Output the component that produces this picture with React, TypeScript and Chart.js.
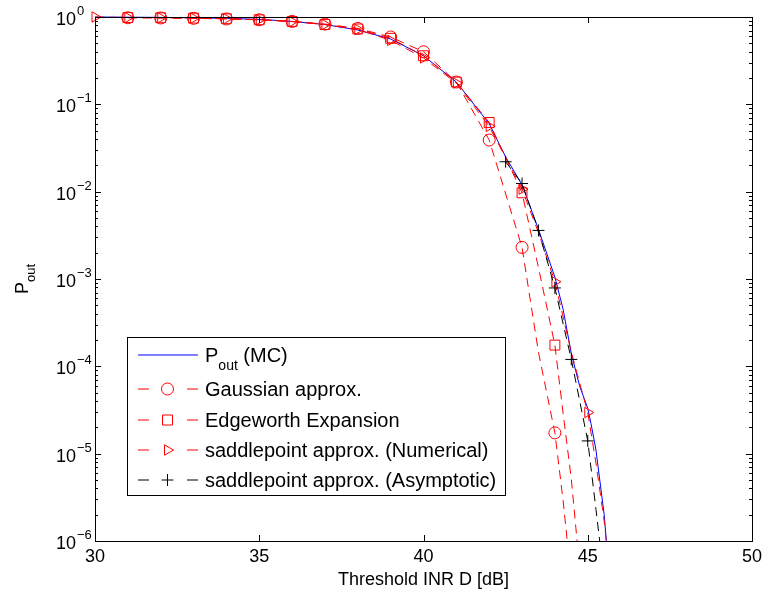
import React, { useEffect, useRef } from 'react';
import { Chart, registerables } from 'chart.js';
Chart.register(...registerables);

// ---- data ----
const mcX = [30, 31, 32, 33, 34, 35, 36, 37, 38, 39, 40, 41, 42, 42.5, 43, 43.5, 44, 44.25, 44.5, 44.75, 45, 45.1, 45.25, 45.5, 45.6];
const mcY = [1.0, 0.995, 0.99, 0.98, 0.965, 0.94, 0.89, 0.82, 0.71, 0.56, 0.36, 0.18, 0.06, 0.025, 0.012, 0.0037, 1.05e-3, 4.5e-4, 1.4e-4, 6e-5, 3.3e-5, 2.2e-5, 1.1e-5, 2e-6, 7e-7];

const gaussX = [31, 32, 33, 34, 35, 36, 37, 38, 39, 40, 41, 42, 43, 43.5, 44, 44.25, 44.5];
const gaussY = [0.98, 0.975, 0.965, 0.95, 0.93, 0.89, 0.83, 0.74, 0.59, 0.40, 0.18, 0.039, 0.0023, 1.45e-4, 1.73e-5, 2.9e-6, 3.5e-7];
const gaussMarkX = [31, 32, 33, 34, 35, 36, 37, 38, 39, 40, 41, 42, 43, 44];

const edgeX = [31, 32, 33, 34, 35, 36, 37, 38, 39, 40, 41, 42, 43, 43.5, 44, 44.25, 44.5, 44.75];
const edgeY = [0.985, 0.98, 0.97, 0.955, 0.93, 0.89, 0.82, 0.73, 0.57, 0.36, 0.18, 0.062, 0.0097, 1.35e-3, 1.75e-4, 2.9e-5, 5.1e-6, 5e-7];
const edgeMarkX = [31, 32, 33, 34, 35, 36, 37, 38, 39, 40, 41, 42, 43, 44];

const saddleX = [30, 31, 32, 33, 34, 35, 36, 37, 38, 39, 40, 41, 42, 43, 43.5, 44, 44.5, 45, 45.25, 45.5, 45.75];
const saddleY = [1.0, 0.985, 0.98, 0.97, 0.955, 0.93, 0.885, 0.82, 0.72, 0.54, 0.34, 0.175, 0.056, 0.0107, 3.4e-3, 9.3e-4, 1.45e-4, 2.96e-5, 7.8e-6, 1.7e-6, 2e-7];
const saddleMarkX = [30, 31, 32, 33, 34, 35, 36, 37, 38, 39, 40, 41, 42, 43, 44, 45];

const asymX = [42.5, 43, 43.5, 44, 44.5, 45, 45.25, 45.5];
const asymY = [0.022, 0.0124, 0.0036, 7.9e-4, 1.2e-4, 1.4e-5, 2.3e-6, 3.7e-7];
const asymMarkX = [42.5, 43, 43.5, 44, 44.5, 45];

const legendLabels = ['P|out| (MC)', 'Gaussian approx.', 'Edgeworth Expansion', 'saddlepoint approx. (Numerical)', 'saddlepoint approx. (Asymptotic)'];
const xTickValues = [30, 35, 40, 45, 50];
const yDecades = [0, -1, -2, -3, -4, -5, -6];
const xTitle = 'Threshold INR D [dB]';
const yTitleMain = 'P';
const yTitleSub = 'out';

const FONT = '"Liberation Sans", Arial, Helvetica, sans-serif';
const RED = '#ff0000';
const BLUE = '#0000ff';
const BLACK = '#000000';

function pts(xs: number[], ys: number[]) {
  return xs.map((x, i) => ({ x, y: ys[i] }));
}
function markerRadius(marks: number[], r: number) {
  return (ctx: any) => {
    const raw = ctx.raw;
    if (!raw) return 0;
    return marks.includes(raw.x) ? r : 0;
  };
}

function drawMarker(ctx: CanvasRenderingContext2D, style: string, x: number, y: number, color: string) {
  ctx.save();
  ctx.strokeStyle = color;
  ctx.lineWidth = 1;
  ctx.setLineDash([]);
  ctx.beginPath();
  if (style === 'circle') {
    ctx.arc(x, y, 6, 0, Math.PI * 2);
  } else if (style === 'rect') {
    ctx.rect(x - 5, y - 5, 10, 10);
  } else if (style === 'triangle') {
    ctx.moveTo(x + 6, y);
    ctx.lineTo(x - 3, y - 5.2);
    ctx.lineTo(x - 3, y + 5.2);
    ctx.closePath();
  } else if (style === 'cross') {
    ctx.moveTo(x - 6, y);
    ctx.lineTo(x + 6, y);
    ctx.moveTo(x, y - 6);
    ctx.lineTo(x, y + 6);
  }
  ctx.stroke();
  ctx.restore();
}

function drawRichText(ctx: CanvasRenderingContext2D, text: string, x: number, y: number, size: number) {
  const parts = text.split('|');
  let cx = x;
  parts.forEach((p, i) => {
    if (i % 2 === 1) {
      ctx.font = `${Math.round(size * 0.72)}px ${FONT}`;
      ctx.fillText(p, cx, y + size * 0.42);
    } else {
      ctx.font = `${size}px ${FONT}`;
      ctx.fillText(p, cx, y);
    }
    cx += ctx.measureText(p).width;
  });
}

const axesPlugin = {
  id: 'matlabAxes',
  afterDraw(chart: any) {
    const ctx: CanvasRenderingContext2D = chart.ctx;
    const a = chart.chartArea;
    const xs = chart.scales.x;
    const ys = chart.scales.y;
    ctx.save();
    ctx.strokeStyle = BLACK;
    ctx.fillStyle = BLACK;
    ctx.lineWidth = 1;
    ctx.setLineDash([]);
    ctx.strokeRect(Math.round(a.left) + 0.5, Math.round(a.top) + 0.5, Math.round(a.right - a.left), Math.round(a.bottom - a.top));
    ctx.beginPath();
    xTickValues.forEach((v) => {
      const px = Math.round(xs.getPixelForValue(v)) + 0.5;
      ctx.moveTo(px, a.bottom);
      ctx.lineTo(px, a.bottom - 6);
      ctx.moveTo(px, a.top);
      ctx.lineTo(px, a.top + 6);
    });
    yDecades.forEach((e) => {
      const py = Math.round(ys.getPixelForValue(Math.pow(10, e))) + 0.5;
      ctx.moveTo(a.left, py);
      ctx.lineTo(a.left + 6, py);
      ctx.moveTo(a.right, py);
      ctx.lineTo(a.right - 6, py);
      if (e < 0) {
        for (let m = 2; m <= 9; m++) {
          const pm = Math.round(ys.getPixelForValue(m * Math.pow(10, e))) + 0.5;
          ctx.moveTo(a.left, pm);
          ctx.lineTo(a.left + 3, pm);
          ctx.moveTo(a.right, pm);
          ctx.lineTo(a.right - 3, pm);
        }
      }
    });
    ctx.stroke();
    ctx.font = `18px ${FONT}`;
    ctx.textAlign = 'center';
    ctx.textBaseline = 'alphabetic';
    xTickValues.forEach((v) => {
      ctx.fillText(String(v), xs.getPixelForValue(v), a.bottom + 21);
    });
    ctx.textAlign = 'left';
    yDecades.forEach((e) => {
      const py = ys.getPixelForValue(Math.pow(10, e));
      ctx.font = `18px ${FONT}`;
      ctx.fillText('10', 56, py + 8);
      const w = ctx.measureText('10').width;
      ctx.font = `13px ${FONT}`;
      ctx.fillText(e === 0 ? '0' : '\u2212' + String(-e), 56 + w + 1, py - 2);
    });
    ctx.font = `18px ${FONT}`;
    ctx.textAlign = 'center';
    ctx.fillText(xTitle, (a.left + a.right) / 2, a.bottom + 44);
    ctx.save();
    ctx.translate(28, (a.top + a.bottom) / 2);
    ctx.rotate(-Math.PI / 2);
    ctx.textAlign = 'left';
    ctx.font = `18px ${FONT}`;
    const wP = ctx.measureText(yTitleMain).width;
    ctx.font = `13px ${FONT}`;
    const wS = ctx.measureText(yTitleSub).width;
    const start = -(wP + wS) / 2;
    ctx.font = `18px ${FONT}`;
    ctx.fillText(yTitleMain, start, 0);
    ctx.font = `13px ${FONT}`;
    ctx.fillText(yTitleSub, start + wP, 7);
    ctx.restore();

    // legend
    const lx = 127, ly = 337, lw = 378, lh = 158;
    ctx.fillStyle = '#ffffff';
    ctx.fillRect(lx, ly, lw, lh);
    ctx.strokeStyle = BLACK;
    ctx.lineWidth = 1;
    ctx.strokeRect(lx + 0.5, ly + 0.5, lw, lh);
    const rows = [355, 389, 420, 450, 480];
    const styles = [null, 'circle', 'rect', 'triangle', 'cross'];
    const colors = [BLUE, RED, RED, RED, BLACK];
    rows.forEach((ry, i) => {
      const c = colors[i];
      ctx.save();
      ctx.strokeStyle = c;
      ctx.lineWidth = 1.2;
      ctx.setLineDash([]);
      ctx.beginPath();
      if (i === 0) {
        ctx.moveTo(138, ry);
        ctx.lineTo(198, ry);
      } else {
        ctx.moveTo(138, ry);
        ctx.lineTo(149, ry);
        ctx.moveTo(187, ry);
        ctx.lineTo(198, ry);
      }
      ctx.stroke();
      ctx.restore();
      if (styles[i]) drawMarker(ctx, styles[i] as string, 167.5, ry, c);
      ctx.fillStyle = BLACK;
      ctx.textAlign = 'left';
      drawRichText(ctx, legendLabels[i], 205, ry + 7, 20);
    });
    ctx.restore();
  },
};

export default function App() {
  const ref = useRef<HTMLCanvasElement | null>(null);
  useEffect(() => {
    document.body.style.margin = '0';
    const canvas = ref.current!;
    const dash = [9, 6];
    const clip = { left: 12, top: 12, right: 12, bottom: 0 };
    const chart = new Chart(canvas, {
      type: 'line',
      data: {
        datasets: [
          {
            label: 'MC',
            data: pts(mcX, mcY),
            borderColor: BLUE,
            borderWidth: 1,
            pointRadius: 0,
            order: 4,
            clip,
          } as any,
          {
            label: 'Gaussian',
            data: pts(gaussX, gaussY),
            borderColor: RED,
            borderWidth: 1,
            borderDash: dash,
            pointStyle: 'circle',
            pointRadius: markerRadius(gaussMarkX, 6),
            pointBorderColor: RED,
            pointBackgroundColor: 'rgba(0,0,0,0)',
            pointBorderWidth: 1,
            order: 3,
            clip,
          },
          {
            label: 'Edgeworth',
            data: pts(edgeX, edgeY),
            borderColor: RED,
            borderWidth: 1,
            borderDash: dash,
            pointStyle: 'rect',
            pointRadius: markerRadius(edgeMarkX, 7),
            pointBorderColor: RED,
            pointBackgroundColor: 'rgba(0,0,0,0)',
            pointBorderWidth: 1,
            order: 2,
            clip,
          },
          {
            label: 'SaddleNum',
            data: pts(saddleX, saddleY),
            borderColor: RED,
            borderWidth: 1,
            borderDash: dash,
            pointStyle: 'triangle',
            pointRotation: 90,
            pointRadius: markerRadius(saddleMarkX, 6),
            pointBorderColor: RED,
            pointBackgroundColor: 'rgba(0,0,0,0)',
            pointBorderWidth: 1,
            order: 1,
            clip,
          },
          {
            label: 'SaddleAsym',
            data: pts(asymX, asymY),
            borderColor: BLACK,
            borderWidth: 1,
            borderDash: dash,
            pointStyle: 'cross',
            pointRadius: markerRadius(asymMarkX, 6),
            pointBorderColor: BLACK,
            pointBackgroundColor: 'rgba(0,0,0,0)',
            pointBorderWidth: 1,
            order: 0,
            clip,
          },
        ],
      },
      options: {
        animation: false,
        responsive: false,
        devicePixelRatio: 1,
        layout: { padding: { left: 95, right: 10, top: 17, bottom: 52 } },
        plugins: { legend: { display: false }, tooltip: { enabled: false } },
        elements: { line: { tension: 0 } },
        scales: {
          x: { type: 'linear', min: 30, max: 50, display: false },
          y: { type: 'logarithmic', min: 1e-6, max: 1, display: false },
        },
      },
      plugins: [axesPlugin],
    });
    return () => chart.destroy();
  }, []);
  return (
    <div style={{ position: 'absolute', left: 0, top: 0, width: 762, height: 593, background: '#fff' }}>
      <canvas ref={ref} width={762} height={593} style={{ width: 762, height: 593 }} />
    </div>
  );
}
